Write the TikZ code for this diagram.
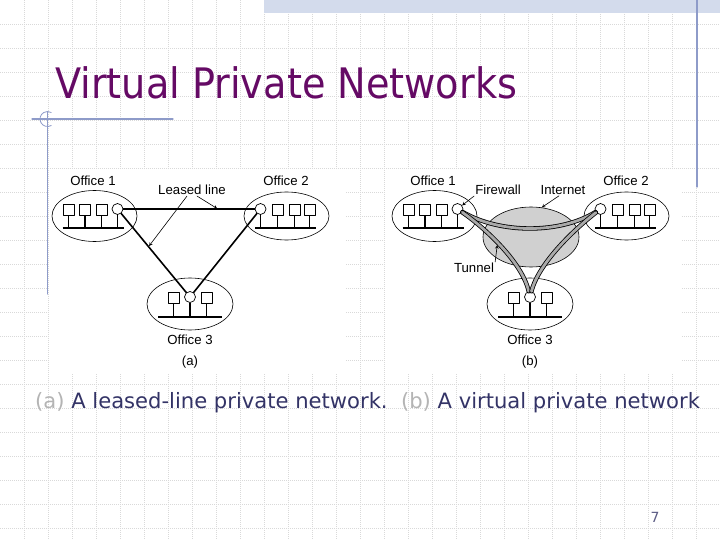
\documentclass[tikz,border=0pt]{standalone}
\usepackage{fontspec}
\setmainfont{Liberation Sans}
\newfontfamily\slidefont{DejaVu Sans}[FakeStretch=0.91]
\newfontfamily\notefont{DejaVu Sans}
\usetikzlibrary{calc,positioning,shapes.geometric}
\definecolor{SlidePurple}{HTML}{650A65}
\definecolor{SlideNavy}{HTML}{333366}
\definecolor{SlideMuted}{HTML}{B4B4B4}
\definecolor{RuleBlue}{HTML}{8E9BC9}
\definecolor{BandBlue}{HTML}{D3DBEC}
\definecolor{GridGray}{HTML}{D9D9D9}
\definecolor{CloudGray}{HTML}{D0D0D0}
\definecolor{TunnelGray}{HTML}{A9A9A9}

\begin{document}
\begin{tikzpicture}[x=1pt,y=-1pt,line cap=round,line join=round,
  gridline/.style={GridGray,line width=.8pt,dash pattern=on 1pt off 1pt,line cap=butt},
  host/.style={draw,line width=.7pt,minimum size=11pt,inner sep=0pt,fill=white},
  gate/.style={draw,circle,line width=.7pt,minimum size=11pt,inner sep=0pt,fill=white},
  stem/.style={line width=1.6pt,line cap=butt},
  bus/.style={line width=2.2pt,line cap=butt},
  site/.style={line width=.6pt},
  leased/.style={line width=1.6pt},
  callout/.style={line width=.6pt,-stealth},
  tunnel/.style={line width=.8pt,double=TunnelGray,double distance=2.8pt},
  lbl/.style={font=\fontsize{13.2}{15}\selectfont,inner sep=1pt}]
  \fill[white] (0,0) rectangle (720,540);
  \useasboundingbox (0,0) rectangle (720,540);

  % slide background
  \foreach \gx in {24,48,...,696}
    \draw[gridline] (\gx,0) -- (\gx,540);
  \foreach \gy in {24,48,...,528}
    \draw[gridline] (0,\gy) -- (720,\gy);
  \fill[BandBlue] (264,0) rectangle (720,13);
  \draw[RuleBlue,line width=1.2pt] (697,0) -- (697,187);
  \draw[RuleBlue,line width=1.2pt] (32,119) -- (173,119);
  \draw[RuleBlue,line width=1.2pt] (47.5,112) -- (47.5,294);
  \draw[RuleBlue,line width=.8pt] (47.5,119) ++(60:7.5) arc[start angle=60,end angle=300,radius=7.5];

  % picture areas
  \fill[white] (48.5,170) rectangle (345,374);
  \fill[white] (386,170) rectangle (682,374);

  \node[anchor=base west,inner sep=0,font=\slidefont\fontsize{42}{48}\selectfont,text=SlidePurple] (title) at (55,99) {Virtual Private Networks};

  % (a) leased lines
  \begin{scope}[shift={(94.5,216)}]
    \draw[site] (0,0) ellipse (42.5 and 25.5);
    \foreach \hx in {-26,-9.5,7,23}
      \draw[stem] (\hx,-1) -- (\hx,12);
    \draw[bus] (-32,12) -- (29,12);
    \foreach \hx [count=\hi] in {-26,-9.5,7}
      \node[host] (hA1-\hi) at (\hx,-6.5) {};
    \node[gate] (gA1) at (23,-7) {};
  \end{scope}
  \begin{scope}[shift={(286.5,216)}]
    \draw[site] (0,0) ellipse (42.5 and 24);
    \foreach \hx in {-26,-9,8,23}
      \draw[stem] (\hx,-1) -- (\hx,12);
    \draw[bus] (-31.5,12) -- (29,12);
    \foreach \hx [count=\hi] in {-9,8,23}
      \node[host] (hA2-\hi) at (\hx,-6.5) {};
    \node[gate] (gA2) at (-26,-7) {};
  \end{scope}
  \begin{scope}[shift={(190,304)}]
    \draw[site] (0,0) ellipse (43 and 26);
    \foreach \hx in {-16.5,0,16.5}
      \draw[stem] (\hx,-1) -- (\hx,13);
    \draw[bus] (-32,13) -- (32,13);
    \foreach \hx [count=\hi] in {-16.5,16.5}
      \node[host] (hA3-\hi) at (\hx,-6) {};
    \node[gate] (gA3) at (0,-7) {};
  \end{scope}
  \draw[leased] (gA1) -- (gA2) coordinate[pos=.72] (llTop);
  \draw[leased] (gA1) -- (gA3) coordinate[pos=.42] (llLeft);
  \draw[leased] (gA2) -- (gA3);

  \node[lbl] (officeA1) at (93,181) {Office 1};
  \node[lbl] (officeA2) at (286,181) {Office 2};
  \node[lbl] (officeA3) at (190,340) {Office 3};
  \node[lbl] (leased) at (192,190) {Leased line};
  \draw[callout,shorten >=.8pt] ([xshift=-5pt]leased.south) -- (llLeft);
  \draw[callout,shorten >=.8pt] ([xshift=5pt]leased.south) -- (llTop);
  \node[lbl] (tagA) at (190,362) {(a)};

  % (b) tunnels through the internet
  \begin{scope}[shift={(434.5,216)}]
    \draw[site] (0,0) ellipse (42.5 and 25.5);
    \foreach \hx in {-26,-9.5,7,23}
      \draw[stem] (\hx,-1) -- (\hx,12);
    \draw[bus] (-32,12) -- (29,12);
    \foreach \hx [count=\hi] in {-26,-9.5,7}
      \node[host] (hB1-\hi) at (\hx,-6.5) {};
    \node[gate] (gB1) at (23,-7) {};
  \end{scope}
  \begin{scope}[shift={(626.5,216)}]
    \draw[site] (0,0) ellipse (42.5 and 24);
    \foreach \hx in {-26,-9,8,23}
      \draw[stem] (\hx,-1) -- (\hx,12);
    \draw[bus] (-31.5,12) -- (29,12);
    \foreach \hx [count=\hi] in {-9,8,23}
      \node[host] (hB2-\hi) at (\hx,-6.5) {};
    \node[gate] (gB2) at (-26,-7) {};
  \end{scope}
  \begin{scope}[shift={(530,304)}]
    \draw[site] (0,0) ellipse (43 and 26);
    \foreach \hx in {-16.5,0,16.5}
      \draw[stem] (\hx,-1) -- (\hx,13);
    \draw[bus] (-32,13) -- (32,13);
    \foreach \hx [count=\hi] in {-16.5,16.5}
      \node[host] (hB3-\hi) at (\hx,-6) {};
    \node[gate] (gB3) at (0,-7) {};
  \end{scope}
  \node[draw,ellipse,fill=CloudGray,line width=.6pt,minimum width=96pt,minimum height=60pt,inner sep=0pt] (net) at (531,237) {};
  \draw[tunnel] (gB1) .. controls (500,234) and (560,234) .. (gB2);
  \draw[tunnel] (gB1) .. controls (485,228) and (522,262) .. (gB3) coordinate[pos=.45] (tunLeft);
  \draw[tunnel] (gB2) .. controls (576,228) and (539,262) .. (gB3);

  \node[lbl] (officeB1) at (433,181) {Office 1};
  \node[lbl] (officeB2) at (626,181) {Office 2};
  \node[lbl] (officeB3) at (530,340) {Office 3};
  \node[lbl] (firewall) at (498,190) {Firewall};
  \node[lbl] (internet) at (563,190) {Internet};
  \node[lbl] (tunnel) at (474,268) {Tunnel};
  \draw[callout] (firewall.south west) -- (gB1);
  \draw[callout] ([xshift=-4pt]internet.south) -- (net.70);
  \draw[callout,shorten >=2.6pt] (tunnel.north east) -- (tunLeft);
  \node[lbl] (tagB) at (530,362) {(b)};

  \node[anchor=base west,inner sep=0,font=\notefont\fontsize{21.1}{24}\selectfont,text=SlideNavy] (caption) at (35,408) {\textcolor{SlideMuted}{(a)} A leased-line private network.\ \ \textcolor{SlideMuted}{(b)} A virtual private network};
  \node[font=\notefont\fontsize{14}{16}\selectfont,text=SlideNavy!80] (pageno) at (655,517) {7};
\end{tikzpicture}
\end{document}
